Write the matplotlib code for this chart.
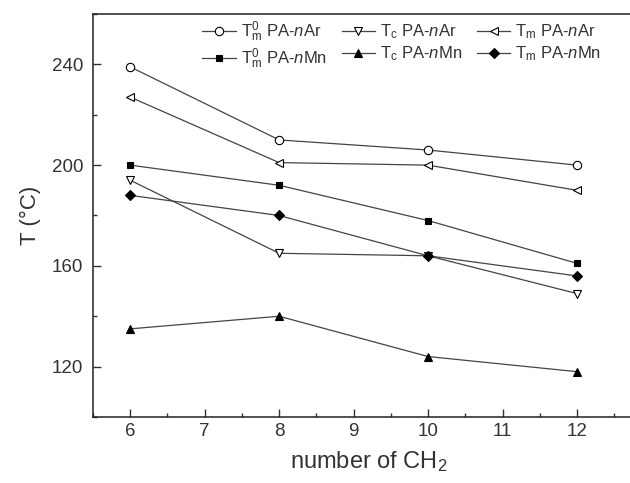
import matplotlib
matplotlib.use("Agg")
import matplotlib.pyplot as plt
from matplotlib.ticker import MultipleLocator

plt.rcParams['font.family'] = ['Liberation Sans', 'DejaVu Sans']
plt.rcParams['mathtext.fontset'] = 'custom'
plt.rcParams['mathtext.rm'] = 'Liberation Sans'
plt.rcParams['mathtext.it'] = 'Liberation Sans:italic'

x = [6, 8, 10, 12]
tm0_ar = [239, 210, 206, 200]
tc_ar = [194, 165, 164, 149]
tm_ar = [227, 201, 200, 190]
tm0_mn = [200, 192, 178, 161]
tc_mn = [135, 140, 124, 118]
tm_mn = [188, 180, 164, 156]

labels = [r"T$_\mathrm{m}^\mathrm{0}$ PA-$n$Ar", r"T$_\mathrm{c}$ PA-$n$Ar", r"T$_\mathrm{m}$ PA-$n$Ar",
          r"T$_\mathrm{m}^\mathrm{0}$ PA-$n$Mn", r"T$_\mathrm{c}$ PA-$n$Mn", r"T$_\mathrm{m}$ PA-$n$Mn"]

fig = plt.figure(figsize=(6.3, 4.83), dpi=100)
ax = fig.add_axes([93/630, 66/483, 551/630, 403/483])

lc = '#444444'
kw = dict(color=lc, lw=0.9, markersize=6, markeredgecolor='black', markeredgewidth=0.8)
h1, = ax.plot(x, tm0_ar, marker='o', markerfacecolor='white', label=labels[0], **kw)
h2, = ax.plot(x, tc_ar, marker='v', markerfacecolor='white', label=labels[1], **kw)
h3, = ax.plot(x, tm_ar, marker='<', markerfacecolor='white', label=labels[2], **kw)
h4, = ax.plot(x, tm0_mn, marker='s', markerfacecolor='black', label=labels[3], **dict(kw, markersize=5))
h5, = ax.plot(x, tc_mn, marker='^', markerfacecolor='black', label=labels[4], **kw)
h6, = ax.plot(x, tm_mn, marker='D', markerfacecolor='black', label=labels[5], **dict(kw, markersize=5))

ax.set_xlim(5.5, 12.9)
ax.set_ylim(100, 260)
ax.xaxis.set_major_locator(MultipleLocator(1))
ax.xaxis.set_minor_locator(MultipleLocator(0.5))
ax.yaxis.set_minor_locator(MultipleLocator(20))
ax.set_yticks([120, 160, 200, 240])
ax.tick_params(which='both', direction='in', top=False, right=False, colors='#333333', labelsize=13.5)
ax.tick_params(which='major', length=6, width=1)
ax.tick_params(which='minor', length=3, width=1)
ax.tick_params(axis='x', pad=4)
ax.tick_params(axis='y', pad=7)
for s in ax.spines.values():
    s.set_linewidth(1.1)
    s.set_color('#222222')

ax.set_xlabel(r"number of CH$_2$", fontsize=17, color='#333333', labelpad=7)
ax.set_ylabel("T (°C)", fontsize=16, color='#333333', labelpad=8)

leg = ax.legend([h1, h4, h2, h5, h3, h6], [labels[0], labels[3], labels[1], labels[4], labels[2], labels[5]],
                ncol=3, loc='upper left', bbox_to_anchor=(0.18, 1.012), frameon=False, fontsize=12,
                handlelength=2.0, handletextpad=0.3, columnspacing=0.9, labelspacing=0.2, borderaxespad=0.2)
for t in leg.get_texts():
    t.set_color('#333333')

fig.savefig("out.png", dpi=100)
